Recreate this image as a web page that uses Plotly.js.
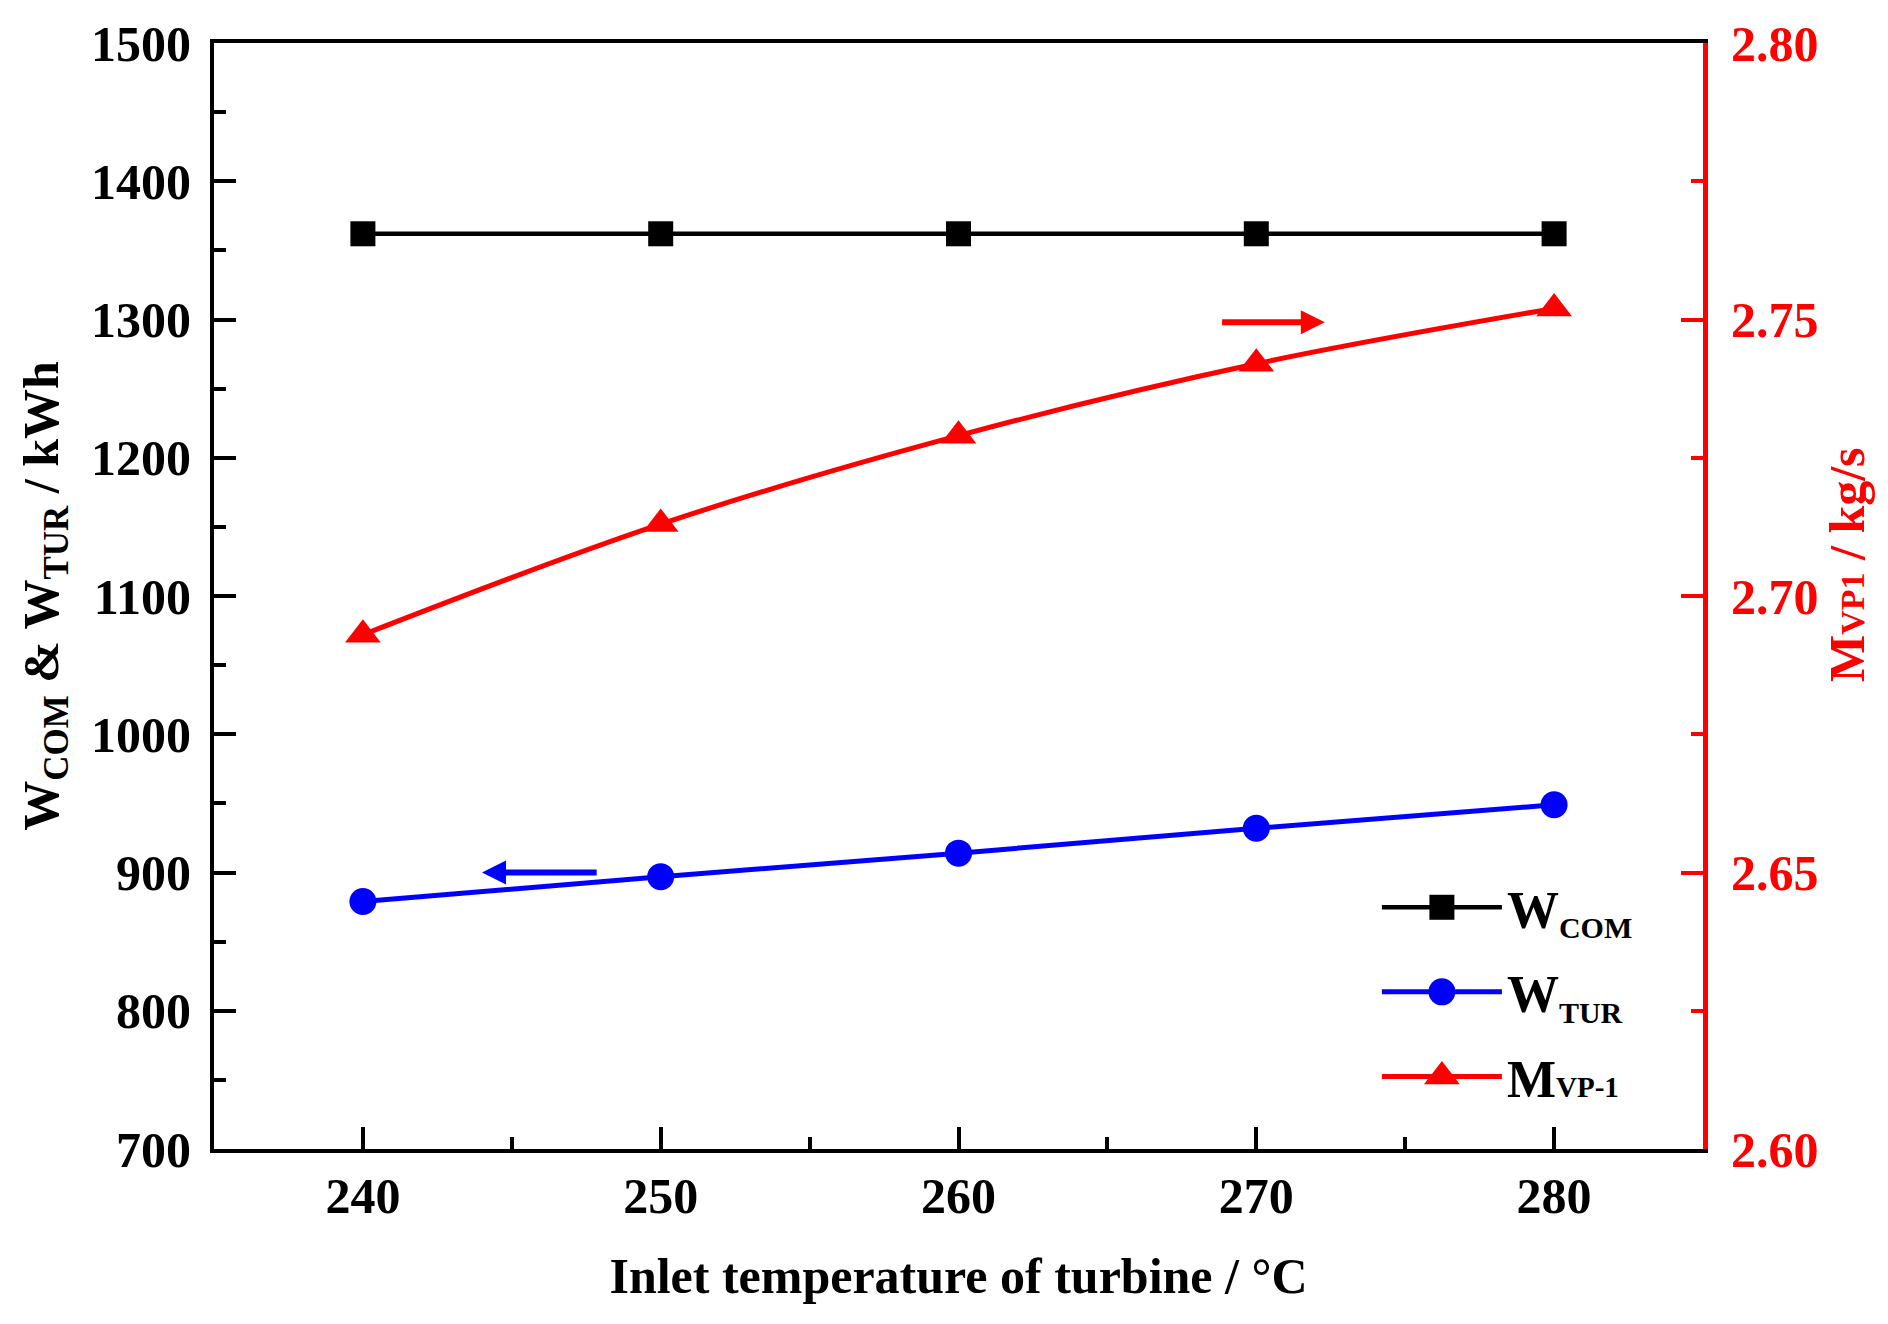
<!DOCTYPE html>
<html>
<head>
<meta charset="utf-8">
<script src="https://cdn.plot.ly/plotly-3.0.1.min.js"></script>
<style>
  html, body { margin: 0; padding: 0; background: #fff; }
  #chart { width: 1888px; height: 1324px; }
</style>
</head>
<body>
<div id="chart"></div>
<script>
// Data
const temps = [240, 250, 260, 270, 280];          // inlet temperature of turbine, °C
const wCom = [1362, 1362, 1362, 1362, 1362];       // kWh
const wTur = [879, 897, 914, 932, 949];            // kWh
const mVp1 = [2.693, 2.713, 2.729, 2.742, 2.752];  // kg/s

const xTicks = [240, 250, 260, 270, 280];
const yTicks = [700, 800, 900, 1000, 1100, 1200, 1300, 1400, 1500];
const y2Ticks = [2.60, 2.65, 2.70, 2.75, 2.80];

const FONT = 'Liberation Serif, Times New Roman, serif';
const RED = '#ff0000';
const BLUE = '#0000ff';
const SUB = s => '<sub><span style="font-size:30px">' + s + '</span></sub>';

const traces = [
    {
        x: temps, y: wCom, type: 'scatter', mode: 'lines+markers',
        name: 'W' + SUB('COM'), legendgroup: 'a',
        line: { color: '#000000', width: 4.5 },
        marker: { symbol: 'square', size: 25, color: '#000000' }
    },
    {
        x: temps, y: wTur, type: 'scatter', mode: 'lines+markers',
        name: 'W' + SUB('TUR'), legendgroup: 'b',
        line: { color: BLUE, width: 5 },
        marker: { symbol: 'circle', size: 27, color: BLUE }
    },
    {
        x: temps, y: mVp1, type: 'scatter', mode: 'lines+markers', yaxis: 'y2',
        name: 'M<span style="font-size:29px">VP-1</span>', legendgroup: 'c',
        line: { color: RED, width: 5, shape: 'spline' },
        marker: { symbol: 'triangle-up', size: 31, color: RED }
    }
];

const tickFont = { family: FONT, size: 50, weight: 700, color: '#000000' };

const layout = {
    width: 1888,
    height: 1324,
    paper_bgcolor: '#ffffff',
    plot_bgcolor: '#ffffff',
    margin: { l: 214, r: 185, t: 43, b: 175 },
    font: { family: FONT, color: '#000000' },
    showlegend: true,
    legend: {
        x: 0.781, y: 0.255, xanchor: 'left', yanchor: 'top',
        bgcolor: 'rgba(0,0,0,0)',
        font: { family: FONT, size: 52, weight: 700, color: '#000000' },
        itemwidth: 120,
        traceorder: 'grouped',
        tracegroupgap: 14
    },
    xaxis: {
        range: [235, 285],
        tickvals: xTicks,
        ticks: 'inside', ticklen: 22, tickwidth: 4, tickcolor: '#000000',
        minor: { dtick: 5, ticks: 'inside', ticklen: 12, tickwidth: 4, tickcolor: '#000000' },
        showline: true, linecolor: '#000000', linewidth: 4, mirror: true,
        showgrid: false, zeroline: false,
        tickfont: tickFont,
        ticklabelstandoff: 0,
        title: {
            text: 'Inlet temperature of turbine / °C',
            font: { family: FONT, size: 50, weight: 700, color: '#000000' },
            standoff: 36
        }
    },
    yaxis: {
        range: [700, 1500],
        tickvals: yTicks,
        ticks: 'inside', ticklen: 22, tickwidth: 4, tickcolor: '#000000',
        minor: { dtick: 50, ticks: 'inside', ticklen: 12, tickwidth: 4, tickcolor: '#000000' },
        showline: true, linecolor: '#000000', linewidth: 4,
        showgrid: false, zeroline: false,
        tickfont: tickFont,
        ticklabelstandoff: 9,
        title: {
            text: 'W<sub>COM</sub> & W<sub>TUR</sub> / kWh',
            font: { family: FONT, size: 50, weight: 700, color: '#000000' },
            standoff: 18
        }
    },
    yaxis2: {
        overlaying: 'y', side: 'right',
        range: [2.6, 2.8],
        tickvals: y2Ticks,
        tickformat: '.2f',
        ticks: 'inside', ticklen: 22, tickwidth: 4, tickcolor: RED,
        minor: { dtick: 0.025, ticks: 'inside', ticklen: 12, tickwidth: 4, tickcolor: RED },
        showline: true, linecolor: RED, linewidth: 5,
        showgrid: false, zeroline: false,
        tickfont: { family: FONT, size: 50, weight: 700, color: RED },
        ticklabelstandoff: 13,
        title: {
            // leading spaces push the label above the axis centre, as in the original
            text: '&nbsp;&nbsp;&nbsp;&nbsp;&nbsp;M<span style="font-size:34px">VP1</span> / kg/s',
            font: { family: FONT, size: 50, weight: 700, color: RED },
            standoff: 8
        }
    },
    annotations: [
        { // arrow pointing to left axis
            x: 244, y: 900, ax: 247.9, ay: 900,
            xref: 'x', yref: 'y', axref: 'x', ayref: 'y',
            text: '', showarrow: true,
            arrowhead: 2, arrowsize: 0.8, arrowwidth: 6, arrowcolor: BLUE
        },
        { // arrow pointing to right axis
            x: 272.3, y: 2.7495, ax: 268.8, ay: 2.7495,
            xref: 'x', yref: 'y2', axref: 'x', ayref: 'y2',
            text: '', showarrow: true,
            arrowhead: 2, arrowsize: 0.8, arrowwidth: 6, arrowcolor: RED
        }
    ]
};

Plotly.newPlot('chart', traces, layout, { displayModeBar: false, staticPlot: true }).then(gd => {
    // legend symbols are capped at 16px by plotly; scale them up to the trace marker size
    gd.querySelectorAll('.legend .traces').forEach((g, i) => {
        const k = traces[i].marker.size / 16;
        g.querySelectorAll('.scatterpts').forEach(p => {
            const t = p.getAttribute('transform') || '';
            p.setAttribute('transform', t + ' scale(' + k + ')');
        });
    });
});
</script>
</body>
</html>
